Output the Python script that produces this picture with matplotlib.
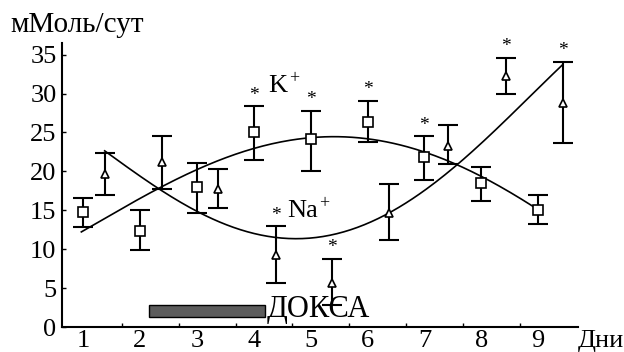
import numpy as np
import matplotlib
matplotlib.use("Agg")
import matplotlib.pyplot as plt
from matplotlib.patches import Rectangle

plt.rcParams['font.family'] = ['Liberation Serif', 'DejaVu Serif']

# K+ (squares)
k_days = [1, 2, 3, 4, 5, 6, 7, 8, 9]
k_mean = [14.8, 12.4, 18.0, 25.0, 24.1, 26.4, 21.8, 18.5, 15.1]
k_top = [16.6, 15.1, 21.1, 28.4, 27.8, 29.1, 24.5, 20.6, 17.0]
k_low = [12.9, 9.9, 14.7, 21.5, 20.1, 23.8, 18.9, 16.2, 13.3]
k_star = [False, False, False, True, True, True, True, False, False]

# Na+ (triangles)
na_days = [1.38, 2.38, 3.38, 4.39, 5.38, 6.38, 7.41, 8.43, 9.44]
na_mean = [19.6, 21.2, 17.8, 9.3, 5.7, 14.7, 23.3, 32.2, 28.8]
na_top = [22.3, 24.6, 20.3, 13.0, 8.8, 18.4, 25.9, 34.6, 34.1]
na_low = [17.0, 17.8, 15.3, 5.7, 2.8, 11.2, 21.0, 30.0, 23.7]
na_star = [False, False, False, True, True, False, False, True, True]

# trend curves
k_curve_x = [0.97, 2.3, 3.0, 4.0, 5.0, 6.0, 7.0, 7.6, 8.0, 9.0]
k_curve_y = [12.2, 17.8, 20.2, 22.8, 24.4, 24.3, 22.3, 21.0, 19.2, 15.1]
na_curve_x = [1.38, 2.3, 3.0, 4.0, 4.8, 5.7, 6.38, 7.6, 8.3, 9.42]
na_curve_y = [22.7, 17.8, 14.8, 12.2, 11.5, 12.3, 14.6, 21.0, 25.8, 33.6]

doca_start, doca_end = 2.16, 4.2

fig = plt.figure(figsize=(6.24, 3.52), dpi=100)
ax = fig.add_axes([62/624, 1-327/352, (578-62)/624, (327-43)/352])

def trend(xs, ys, deg):
    p = np.polyfit(xs, ys, deg)
    xx = np.linspace(xs[0], xs[-1], 200)
    return xx, np.polyval(p, xx)

xx, yy = trend(k_curve_x, k_curve_y, 4)
ax.plot(xx, yy, color='black', lw=1.2)
xx, yy = trend(na_curve_x, na_curve_y, 4)
ax.plot(xx, yy, color='black', lw=1.2)

def series(days, mean, top, low, marker, ms):
    mean = np.array(mean)
    err = [mean - np.array(low), np.array(top) - mean]
    ax.errorbar(days, mean, yerr=err, fmt='none', ecolor='black',
                elinewidth=1.5, capsize=7, capthick=1.5)
    ax.plot(days, mean, marker, ms=ms, mfc='white', mec='black', mew=1.2,
            ls='none', zorder=5)

series(k_days, k_mean, k_top, k_low, 's', 6.5)
series(na_days, na_mean, na_top, na_low, '^', 6)

for d, t, s in zip(k_days, k_top, k_star):
    if s:
        ax.text(d, t + 0.3, '*', ha='center', va='bottom', fontsize=14)
for d, t, s in zip(na_days, na_top, na_star):
    if s:
        ax.text(d, t + 0.3, '*', ha='center', va='bottom', fontsize=14)

ax.add_patch(Rectangle((doca_start, 1.3), doca_end - doca_start, 1.5,
                       facecolor='#5c5c5c', edgecolor='black', lw=1))
ax.text(doca_end + 0.02, 2.3, 'ДОКСА', fontsize=22, va='center', ha='left')

ax.text(4.25, 31.0, 'K', fontsize=19, va='center', ha='left')
ax.text(4.62, 31.9, '+', fontsize=13, va='center', ha='left')
ax.text(4.59, 14.9, 'Na', fontsize=19, va='center', ha='left')
ax.text(5.15, 15.8, '+', fontsize=13, va='center', ha='left')

ax.set_xlim(0.63, 9.7)
ax.set_ylim(0, 36.5)
ax.spines['top'].set_visible(False)
ax.spines['right'].set_visible(False)
ax.spines['left'].set_linewidth(1.5)
ax.spines['bottom'].set_linewidth(1.5)

ax.set_xticks(range(1, 10))
ax.set_xticks([k + 0.68 for k in range(1, 9)], minor=True)
ax.tick_params(axis='x', which='major', length=0, pad=2, labelsize=19)
ax.tick_params(axis='x', which='minor', direction='in', length=3, width=1)
ax.set_yticks(range(0, 36, 5))
ax.tick_params(axis='y', direction='in', length=3, width=1, pad=4,
               labelsize=19)

fig.text(10/624, 1-25/352, 'мМоль/сут', fontsize=21, va='center', ha='left')
fig.text(578/624, 1-341/352, 'Дни', fontsize=19, va='center', ha='left')

fig.savefig('out.png', dpi=100)
